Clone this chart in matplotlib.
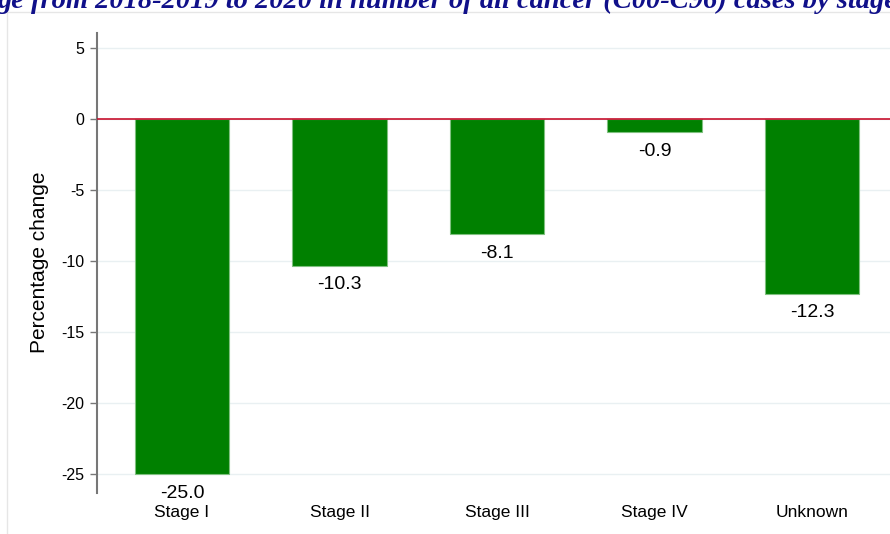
import matplotlib
matplotlib.use("Agg")
import matplotlib.pyplot as plt
from matplotlib.patches import Rectangle

categories = ["Stage I", "Stage II", "Stage III", "Stage IV", "Unknown"]
pct_change = [-25.0, -10.3, -8.1, -0.9, -12.3]
yticks = [5, 0, -5, -10, -15, -20, -25]
title_text = "ge from 2018-2019 to 2020 in number of all cancer (C00-C96) cases by stage"

W, H = 890, 534
fig = plt.figure(figsize=(W / 100, H / 100), dpi=100)
fig.patch.set_facecolor("white")

# outer light frame
fig.patches.append(Rectangle((7 / W, -0.1), 1.2, 1 - 12 / H + 0.1, transform=fig.transFigure,
                             fill=False, edgecolor="#e6e6e6", linewidth=1.0, zorder=0))

ax = fig.add_axes([97 / W, 1 - 492.7 / H, 800 / W, (492.7 - 33) / H])
x = list(range(len(categories)))
ax.bar(x, pct_change, width=0.6, color="#008000", edgecolor="#7fc07f", linewidth=0.8, zorder=3)
ax.axhline(0, color="#c8102e", linewidth=1.2, zorder=4)

ax.set_xlim(-0.54, 4.54)
ax.set_ylim(-26.3, 6.08)
ax.set_yticks(yticks)
ax.set_yticklabels([str(v) for v in yticks], fontsize=11.5, family="Liberation Sans")
ax.set_xticks(x)
ax.set_xticklabels(categories, fontsize=12.5, family="Liberation Sans")
ax.tick_params(axis="x", length=0, pad=9)
ax.tick_params(axis="y", length=5, width=1, color="#777777", pad=4)
ax.yaxis.grid(True, color="#e9f0f2", linewidth=1.0, zorder=0)
ax.set_axisbelow(True)
for s in ["top", "right", "bottom"]:
    ax.spines[s].set_visible(False)
ax.spines["left"].set_color("#777777")
ax.spines["left"].set_linewidth(1.5)

ax.set_ylabel("Percentage change", fontsize=15, family="Liberation Sans")
ax.yaxis.set_label_coords(-(97 - 49) / 800, (492.7 - 262) / (492.7 - 33))

for xi, v in zip(x, pct_change):
    ax.annotate(f"{v:.1f}", (xi, v), xytext=(0, -19 * 0.72), textcoords="offset points",
                ha="center", va="center", fontsize=14, family="Liberation Sans", zorder=5)

fig.text(-2 / W, 1 - 8 / H, title_text, ha="left", va="baseline", fontsize=20.5,
         family="Liberation Serif", fontweight="bold", fontstyle="italic", color="#10108a")

fig.savefig("out.png", dpi=100)
